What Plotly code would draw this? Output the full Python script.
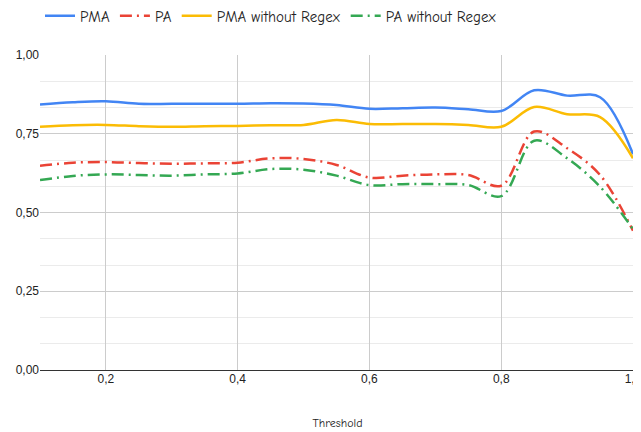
import plotly.graph_objects as go

threshold = [0.1, 0.15, 0.2, 0.25, 0.3, 0.35, 0.4, 0.45, 0.5, 0.55, 0.6, 0.65, 0.7, 0.75, 0.8, 0.85, 0.9, 0.95, 1.0]
pma = [0.843, 0.850, 0.853, 0.845, 0.845, 0.845, 0.845, 0.847, 0.846, 0.841, 0.829, 0.831, 0.833, 0.828, 0.822, 0.888, 0.871, 0.866, 0.685]
pa = [0.648, 0.658, 0.660, 0.657, 0.655, 0.656, 0.658, 0.672, 0.670, 0.651, 0.611, 0.617, 0.621, 0.619, 0.585, 0.757, 0.704, 0.619, 0.442]
pma_no_regex = [0.772, 0.777, 0.778, 0.774, 0.772, 0.774, 0.775, 0.777, 0.778, 0.794, 0.781, 0.781, 0.781, 0.778, 0.772, 0.835, 0.812, 0.803, 0.672]
pa_no_regex = [0.603, 0.616, 0.621, 0.619, 0.617, 0.621, 0.624, 0.638, 0.636, 0.617, 0.587, 0.590, 0.590, 0.587, 0.552, 0.728, 0.672, 0.582, 0.447]

series = [
    ("PMA", pma, "#4285F4", "solid"),
    ("PA", pa, "#EA4335", "12px,5px,2px,5px"),
    ("PMA without Regex", pma_no_regex, "#FBBC04", "solid"),
    ("PA without Regex", pa_no_regex, "#34A853", "12px,5px,2px,5px"),
]

hand_font = "Comic Sans MS, Comic Neue, Lato, Noto Sans, sans-serif"

fig = go.Figure()
for name, vals, color, dash in series:
    fig.add_trace(go.Scatter(
        x=threshold, y=vals, name=name, mode="lines",
        line=dict(color=color, width=2.5, dash=dash, shape="spline", smoothing=1.0),
    ))

# page body has an 8px default margin; size the figure so the plot lands where the reference has it
fig.update_layout(
    width=633, height=424,
    margin=dict(l=32, r=6, t=47, b=62, autoexpand=False),
    paper_bgcolor="white", plot_bgcolor="white",
    separators=",.",
    showlegend=True,
    legend=dict(orientation="h", x=0.0, xanchor="left", y=1.124, yanchor="middle",
                yref="paper", xref="paper",
                font=dict(family=hand_font, size=15, color="#222222"),
                itemwidth=30, tracegroupgap=0),
    xaxis=dict(
        range=[0.1, 1.003], tick0=0, dtick=0.2, tickformat=".1f",
        showgrid=True, gridcolor="#cccccc", gridwidth=1, automargin=False,
        zeroline=False, showline=False, ticks="", ticklabeloverflow="allow",
        tickfont=dict(family="Liberation Sans, Arial, sans-serif", size=12, color="#222222"),
        title=dict(text="Threshold", font=dict(family=hand_font, size=12, color="#222222"), standoff=33),
    ),
    yaxis=dict(
        range=[0, 1.0], tick0=0, dtick=0.25, tickformat=".2f", automargin=False,
        showgrid=True, gridcolor="#cccccc", gridwidth=1,
        minor=dict(dtick=0.25 / 3, showgrid=True, gridcolor="#ebebeb", gridwidth=1),
        zeroline=True, zerolinecolor="#333333", zerolinewidth=1,
        showline=False, ticks="",
        tickfont=dict(family="Liberation Sans, Arial, sans-serif", size=12, color="#222222"),
    ),
)

fig.write_html("out.html")
